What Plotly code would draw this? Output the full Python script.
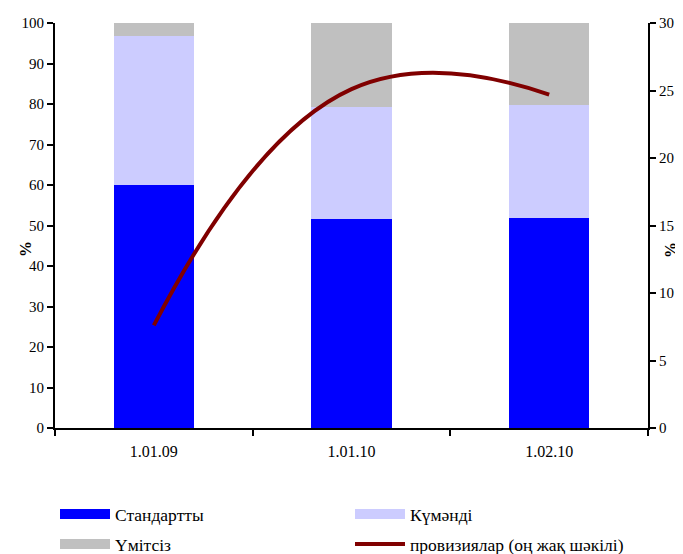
import plotly.graph_objects as go

categories = ["1.01.09", "1.01.10", "1.02.10"]
standard = [60.1, 51.6, 51.9]
doubtful = [36.7, 27.7, 27.9]
hopeless = [3.2, 20.7, 20.2]
provisions = [7.6, 25.1, 24.7]

series_names = ["Стандартты", "Күмәнді", "Үмітсіз", "провизиялар (оң жақ шәкілі)"]
colors = ["#0000FF", "#CCCCFF", "#C0C0C0", "#800000"]

font_family = "Liberation Serif, Times New Roman, serif"

fig = go.Figure()
for vals, name, col in zip([standard, doubtful, hopeless], series_names[:3], colors[:3]):
    fig.add_trace(go.Bar(x=categories, y=vals, name=name, showlegend=False,
                         marker=dict(color=col, line=dict(width=0))))
fig.add_trace(go.Scatter(x=categories, y=provisions, name=series_names[3], yaxis="y2",
                         mode="lines", showlegend=False,
                         line=dict(color=colors[3], width=4, shape="spline", smoothing=1.3)))

# legend entries (two rows, as in the reference)
legend_ids = ["legend", "legend", "legend2", "legend2"]
widths = [12, 12, 12, 4]
for name, col, lg, w in zip(series_names, colors, legend_ids, widths):
    fig.add_trace(go.Scatter(x=[None], y=[None], mode="lines", name=name, legend=lg,
                             line=dict(color=col, width=w), showlegend=True, hoverinfo="skip"))

leg_common = dict(orientation="h", xanchor="left", yanchor="middle",
                  entrywidth=230, entrywidthmode="pixels", itemwidth=50,
                  font=dict(size=17.5, family=font_family), traceorder="normal",
                  bgcolor="rgba(0,0,0,0)")

# page has an 8px body margin: figure spans page x 8..683, y 8..554
fig.update_layout(
    width=675, height=546,
    margin=dict(l=47, r=35, t=15, b=126, autoexpand=False),
    paper_bgcolor="white", plot_bgcolor="white",
    barmode="stack", bargap=0.595,
    font=dict(family=font_family, size=14, color="black"),
    showlegend=True,
    legend=dict(x=0, y=-(514 - 428) / 405, **leg_common),
    legend2=dict(x=0, y=-(544 - 428) / 405, **leg_common),
    xaxis=dict(type="category", showline=True, linecolor="black", linewidth=2,
               ticks="outside", tickson="boundaries", ticklen=6, tickwidth=2, tickcolor="black",
               tickfont=dict(size=16), ticklabelstandoff=8, showgrid=False, zeroline=False),
    yaxis=dict(range=[0, 100], dtick=10, showline=True, linecolor="black", linewidth=2,
               ticks="outside", ticklen=6, tickwidth=2, tickcolor="black",
               showgrid=False, zeroline=False, tickfont=dict(size=15)),
    yaxis2=dict(range=[0, 30], dtick=5, overlaying="y", side="right", showline=True,
                linecolor="black", linewidth=2, ticks="outside", ticklen=6, tickwidth=2,
                tickcolor="black", showgrid=False, zeroline=False, tickfont=dict(size=15)),
    annotations=[
        dict(text="<b>%</b>", xref="paper", yref="paper", x=0, xshift=-30, xanchor="center",
             y=(428 - 249) / 405, showarrow=False, textangle=-90, font=dict(size=16)),
        dict(text="<b>%</b>", xref="paper", yref="paper", x=1.0, xshift=23, xanchor="center",
             y=(428 - 250) / 405, showarrow=False, textangle=-90, font=dict(size=16)),
    ],
)

fig.write_html("out.html")
